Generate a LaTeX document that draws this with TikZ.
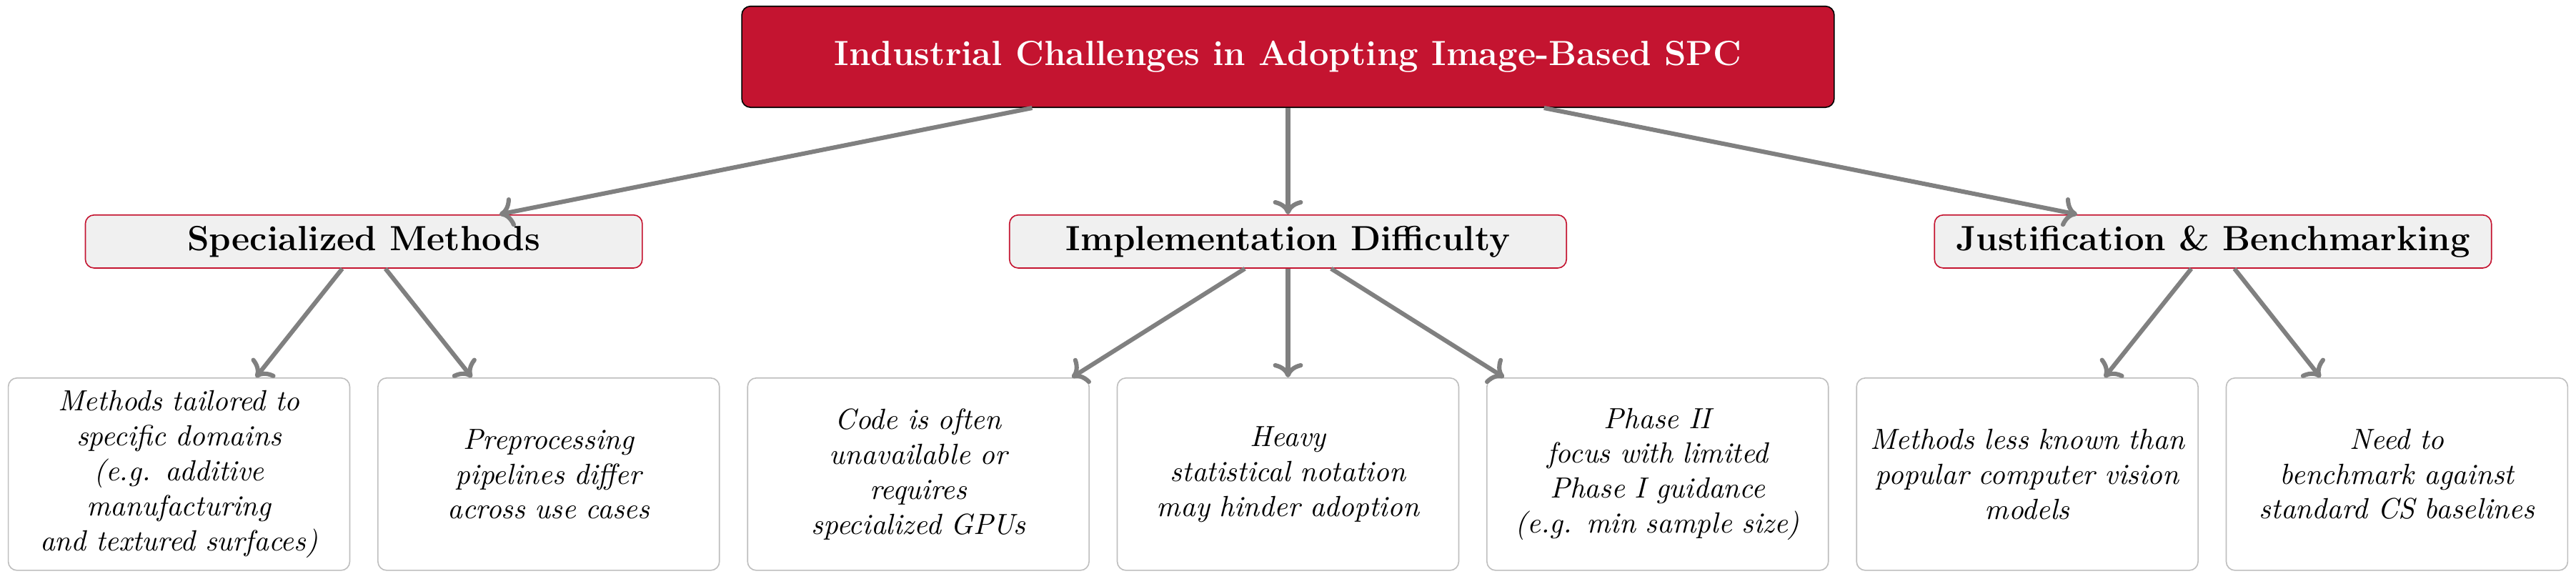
\documentclass[tikz,border=0pt]{standalone}
\usetikzlibrary{arrows.meta}
\definecolor{crimson}{RGB}{196,20,48}

\tikzset{
  rootbox/.style={rectangle, draw=black, fill=crimson,
    rounded corners=3pt,
    minimum width=13.18cm,
    minimum height=1.22cm,
    text=white, font=\large\bfseries},
  catbox/.style={rectangle, draw=crimson, fill=gray!12,
    rounded corners=3pt,
    minimum width=6.72cm,
    minimum height=0.64cm,
    font=\large\bfseries},
  leafbox/.style={rectangle, draw=gray!50, fill=white,
    rounded corners=3pt,
    minimum width=4.12cm,
    minimum height=2.32cm,
    text width=3.8cm, align=center, font=\itshape},
  link/.style={-{To[round]}, line width=1.5pt, gray}
}

\begin{document}
\begin{tikzpicture}

    \useasboundingbox (-15.54,-6.298) rectangle (15.54,0.685);

    \node[rootbox] (root) at (0,0)
      {Industrial Challenges in Adopting Image-Based SPC};

    % second level
    \node[catbox] (spec) at (-11.15,-2.228) {Specialized Methods};
    \node[catbox] (impl) at (0,-2.228) {Implementation Difficulty};
    \node[catbox] (just) at (11.16,-2.228) {Justification \& Benchmarking};

    \draw[link] (root)--(spec);
    \draw[link] (root)--(impl);
    \draw[link] (root)--(just);

    % leaves
    \node[leafbox] (tailor) at (-13.38,-5.034)
      {Methods tailored to\\ specific domains\\ (e.g. additive\\ manufacturing\\ and textured surfaces)};
    \node[leafbox] (prep) at (-8.92,-5.034)
      {Preprocessing\\ pipelines differ\\ across use cases};

    \node[leafbox] (code) at (-4.46,-5.034)
      {Code is often\\ unavailable or\\ requires\\ specialized GPUs};
    \node[leafbox] (notation) at (0,-5.034)
      {Heavy\\ statistical notation\\ may hinder adoption};
    \node[leafbox] (phase) at (4.46,-5.034)
      {Phase II\\ focus with limited\\ Phase I guidance\\ (e.g. min sample size)};

    \node[leafbox] (known) at (8.92,-5.034)
      {Methods less known than\\ popular computer vision\\ models};
    \node[leafbox] (bench) at (13.38,-5.034)
      {Need to\\ benchmark against\\ standard CS baselines};

    \draw[link] (spec)--(tailor);
    \draw[link] (spec)--(prep);
    \draw[link] (impl)--(code);
    \draw[link] (impl)--(notation);
    \draw[link] (impl)--(phase);
    \draw[link] (just)--(known);
    \draw[link] (just)--(bench);

\end{tikzpicture}
\end{document}
